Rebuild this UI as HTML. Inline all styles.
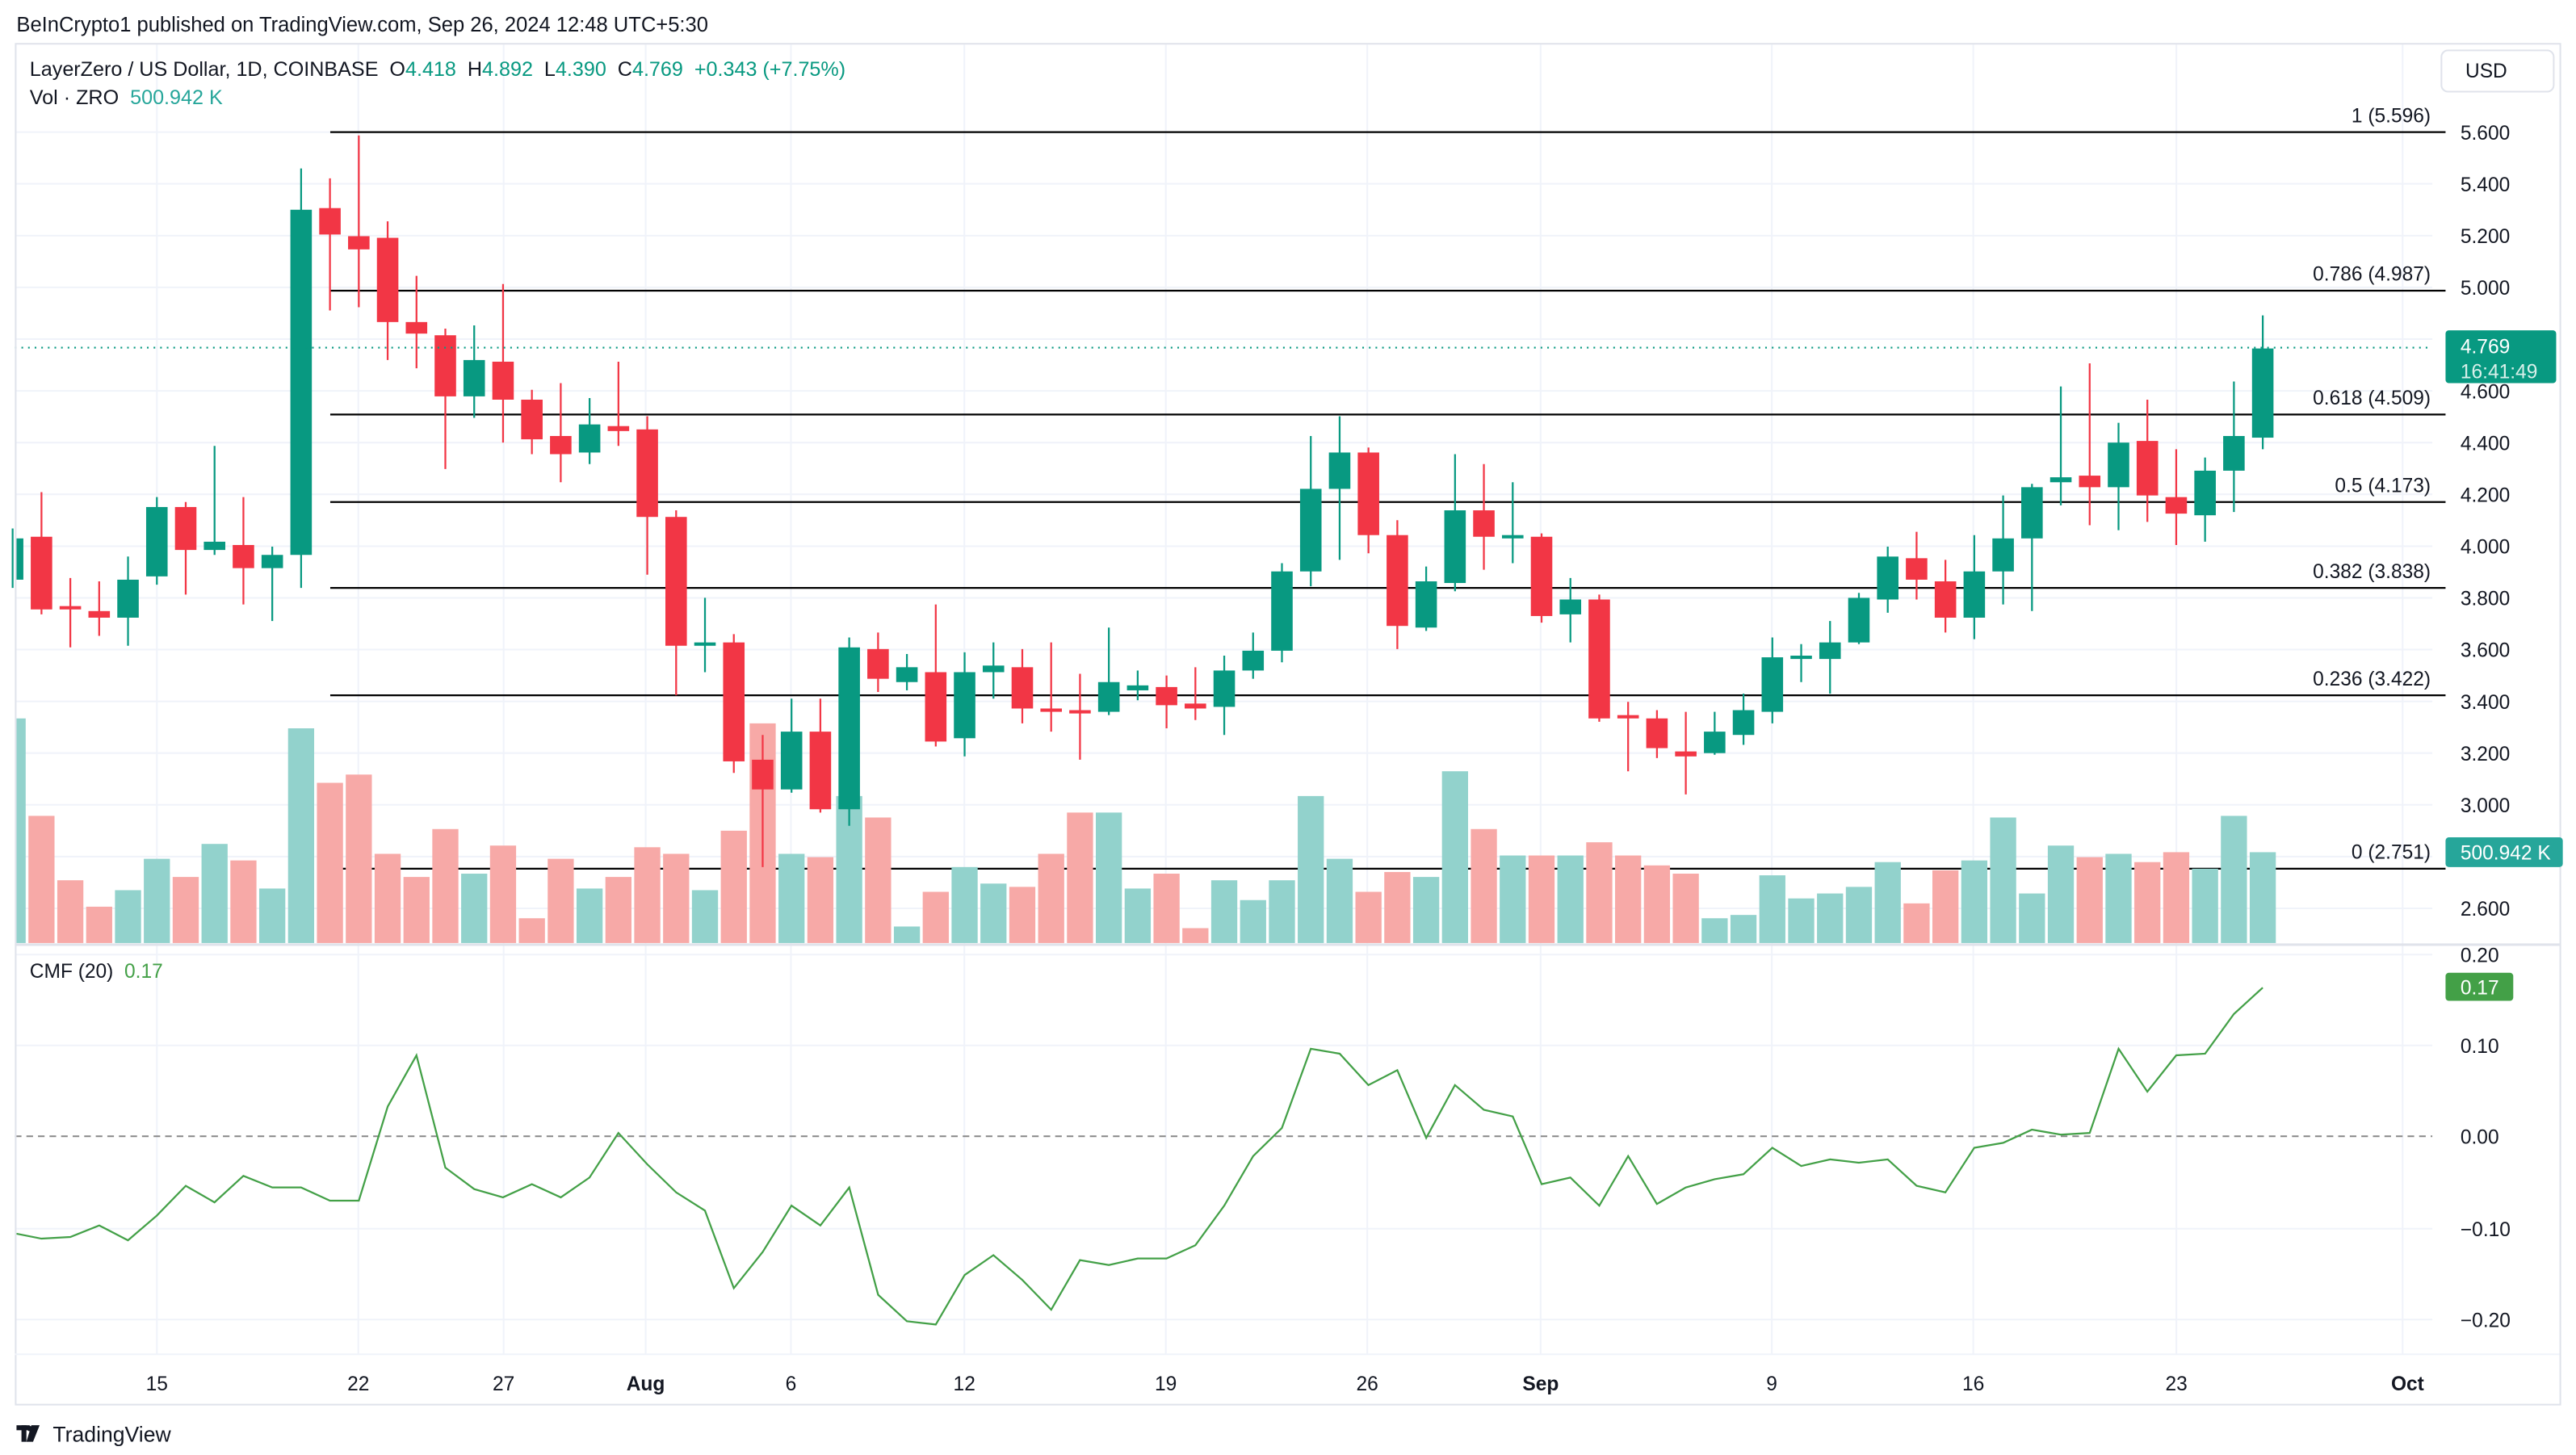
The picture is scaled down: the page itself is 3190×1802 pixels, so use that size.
<!DOCTYPE html>
<html><head><meta charset="utf-8">
<style>
html,body{margin:0;padding:0;background:#fff;}
svg{display:block;}
text{font-family:"Liberation Sans",sans-serif;}
</style></head>
<body>
<svg id="s" xmlns="http://www.w3.org/2000/svg" width="3190" height="1802" viewBox="0 0 1560 881" preserveAspectRatio="none">
<rect x="0" y="0" width="1560" height="881" fill="#fff"/>
<text x="10" y="19" font-size="12.5" fill="#131722">BeInCrypto1 published on TradingView.com, Sep 26, 2024 12:48 UTC+5:30</text>
<g id="grid" stroke="#f0f3fa" stroke-width="1"></g>
<g id="fib"></g>
<g id="vol"></g>
<g id="cdl"></g>
<line x1="9" y1="210.5" x2="1473" y2="210.5" stroke="#089981" stroke-width="1" stroke-dasharray="1,3"/>
<line x1="9" y1="572" x2="1550" y2="572" stroke="#e0e3eb" stroke-width="1.5"/>
<line x1="9" y1="688" x2="1473" y2="688" stroke="#888" stroke-width="1" stroke-dasharray="4,3"/>
<polyline id="cmf" fill="none" stroke="#43a047" stroke-width="1.1"/>
<rect x="9.5" y="26.5" width="1541" height="824" fill="none" stroke="#e0e3eb" stroke-width="1"/>
<line x1="9" y1="820" x2="1550" y2="820" stroke="#f0f3fa" stroke-width="1"/>
<text x="18" y="46" font-size="12.3" fill="#131722" xml:space="preserve">LayerZero / US Dollar, 1D, COINBASE  O<tspan fill="#089981">4.418</tspan>  H<tspan fill="#089981">4.892</tspan>  L<tspan fill="#089981">4.390</tspan>  C<tspan fill="#089981">4.769</tspan>  <tspan fill="#089981">+0.343 (+7.75%)</tspan></text>
<text x="18" y="63" font-size="12.3" fill="#131722" xml:space="preserve">Vol · ZRO  <tspan fill="#26a69a">500.942 K</tspan></text>
<text x="18" y="592" font-size="12" fill="#131722" xml:space="preserve">CMF (20)  <tspan fill="#43a047">0.17</tspan></text>
<rect x="1478.5" y="30.5" width="68" height="25" rx="4" fill="#fff" stroke="#e0e3eb"/>
<text x="1493" y="47" font-size="12" fill="#131722">USD</text>
<g id="ax" font-size="12" fill="#131722"></g>
<rect x="1481" y="200" width="67" height="32" rx="2" fill="#089981"/>
<text x="1490" y="214" font-size="12" fill="#fff">4.769</text>
<text x="1490" y="229" font-size="12" fill="#d8f0ea">16:41:49</text>
<rect x="1481" y="507" width="71" height="18" rx="2" fill="#26a69a"/>
<text x="1490" y="520.5" font-size="12" fill="#fff">500.942 K</text>
<rect x="1481" y="589" width="41" height="17" rx="2" fill="#43a047"/>
<text x="1490" y="602" font-size="12" fill="#fff">0.17</text>
<g id="tx" font-size="12" fill="#131722" text-anchor="middle"></g>
<rect x="10" y="863" width="8" height="3" fill="#131722"/><rect x="13" y="863" width="3" height="10" fill="#131722"/><polygon points="19,863 24,863 20,873 16,873" fill="#131722"/><circle cx="18" cy="865" r="1.6" fill="#131722"/>
<text x="32" y="873" font-size="13" fill="#131722">TradingView</text>
</svg>
<script>
var NS="http://www.w3.org/2000/svg";
function el(p,t,a,txt){var e=document.createElementNS(NS,t);for(var k in a)e.setAttribute(k,a[k]);if(txt!==undefined)e.textContent=txt;document.getElementById(p).appendChild(e);return e;}
var X=function(d){return 95+17.47*d;};
var vx=[95,217,305,391,479,584,706,828,933,1073,1195,1318,1455];
vx.forEach(function(x){el("grid","line",{x1:x,y1:27,x2:x,y2:820});});
var py=[80,111.3,142.7,174,205.3,236.7,268,299.3,330.7,362,393.3,424.7,456,487.3,518.7,550];
py.forEach(function(y){el("grid","line",{x1:9,y1:y,x2:1473,y2:y});});
[578,633,744,799].forEach(function(y){el("grid","line",{x1:9,y1:y,x2:1473,y2:y});});
var pl=["5.600","5.400","5.200","5.000","","4.600","4.400","4.200","4.000","3.800","3.600","3.400","3.200","3.000","","2.600"];
pl.forEach(function(t,i){if(t)el("ax","text",{x:1490,y:py[i]+4.5},t);});
[["0.20",578],["0.10",633],["0.00",688],["−0.10",744],["−0.20",799]].forEach(function(a){el("ax","text",{x:1490,y:a[1]+4.5},a[0]);});
var tl=[["15",95],["22",217],["27",305],["Aug",391],["6",479],["12",584],["19",706],["26",828],["Sep",933],["9",1073],["16",1195],["23",1318],["Oct",1458]];
tl.forEach(function(a){var e=el("tx","text",{x:a[1],y:842},a[0]);if(/[A-Z]/.test(a[0]))e.setAttribute("font-weight","bold");});
[["1 (5.596)",80],["0.786 (4.987)",176],["0.618 (4.509)",251],["0.5 (4.173)",304],["0.382 (3.838)",356],["0.236 (3.422)",421],["0 (2.751)",526]].forEach(function(a){
el("fib","line",{x1:200,y1:a[1],x2:1481,y2:a[1],stroke:"#000","stroke-width":1.1});
el("fib","text",{x:1472,y:a[1]-6,"font-size":12,fill:"#131722","text-anchor":"end"},a[0]);});
var C=[
[-5,326,351,320,356,1,435],[-4,325,369,298,372,0,494],[-3,367,369,350,392,0,533],[-2,370,374,352,385,0,549],[-1,351,374,337,391,1,539],
[0,307,349,301,354,1,520],[1,307,333,304,360,0,531],[2,328,333,270,336,1,511],[3,330,344,301,366,0,521],[4,336,344,331,376,1,538],
[5,127,336,102,356,1,441],[6,126,142,108,188,0,474],[7,143,151,82,186,0,469],[8,144,195,134,218,0,517],[9,195,202,167,223,0,531],
[10,203,240,199,284,0,502],[11,218,240,197,253,1,529],[12,219,242,172,268,0,512],[13,242,266,236,275,0,556],[14,264,275,232,292,0,520],
[15,257,274,241,281,1,538],[16,258,261,219,270,0,531],[17,260,313,252,348,0,513],[18,313,391,309,421,0,517],[19,389,391,362,407,1,539],
[20,389,461,384,468,0,503],[21,460,478,445,525,0,438],[22,443,478,423,480,1,517],[23,443,490,423,492,0,519],[24,392,490,386,500,1,482],
[25,393,411,383,419,0,495],[26,404,413,396,418,1,561],[27,407,449,366,452,0,540],[28,407,447,395,458,1,525],[29,403,407,389,423,1,535],
[30,404,429,393,438,0,537],[31,429,431,389,443,0,517],[32,430,432,408,460,0,492],[33,413,431,380,433,1,492],[34,415,418,406,424,1,538],
[35,416,427,409,441,0,529],[36,426,429,404,436,0,562],[37,406,428,397,445,1,533],[38,394,406,383,411,1,545],[39,346,394,341,401,1,533],
[40,296,346,264,355,1,482],[41,274,296,252,339,1,520],[42,274,324,271,335,0,540],[43,324,379,315,393,0,528],[44,352,380,343,382,1,531],
[45,309,353,275,358,1,467],[46,309,325,281,345,0,502],[47,324,326,292,341,1,518],[48,325,373,323,377,0,518],[49,363,372,350,389,1,518],
[50,363,435,360,437,0,510],[51,433,435,425,467,0,518],[52,435,453,430,459,0,524],[53,455,458,431,481,0,529],[54,443,456,431,457,1,556],
[55,430,445,420,451,1,554],[56,398,431,386,438,1,530],[57,397,399,390,413,1,544],[58,389,399,376,420,1,541],[59,362,389,359,390,1,537],
[60,337,363,331,371,1,522],[61,338,351,322,363,0,547],[62,352,374,339,383,0,527],[63,346,374,324,387,1,521],[64,326,346,300,366,1,495],
[65,295,326,293,370,1,541],[66,289,292,234,306,1,512],[67,288,295,220,318,0,519],[68,268,295,256,321,1,517],[69,267,300,242,316,0,522],
[70,301,311,272,330,0,516],[71,285,312,277,328,1,526],[72,264,285,231,310,1,494],[73,211,265,191,272,1,516]];
C.forEach(function(c){
var x=X(c[0]);var col=c[5]?"#089981":"#f23645";var vc=c[5]?"#92d2cc":"#f7a9a7";
var vx0=Math.max(x-7.9,10),vx1=x+7.9;
el("vol","rect",{x:vx0,y:c[6],width:Math.max(vx1-vx0,0),height:571-c[6],fill:vc});
el("cdl","line",{x1:x,y1:c[3],x2:x,y2:c[4],stroke:col,"stroke-width":1.1});
var bx0=Math.max(x-6.5,10),bx1=x+6.5;
el("cdl","rect",{x:bx0,y:c[1],width:bx1-bx0,height:Math.max(c[2]-c[1],1.5),fill:col});
});
var Y=[747,750,749,742,751,736,718,728,712,719,719,727,727,670,639,707,720,725,717,725,713,686,705,722,733,780,758,730,742,719,784,800,802,772,760,775,793,763,766,762,762,754,730,700,683,635,638,657,648,689,657,672,676,717,713,730,700,729,719,714,711,695,706,702,704,702,718,722,695,692,684,687,686,635,661,639,638,614,598];
var pts=Y.map(function(y,i){var x=X(i-5);if(x<10)x=10;return x.toFixed(1)+","+y;}).join(" ");
document.getElementById("cmf").setAttribute("points",pts);
</script>
</body></html>
